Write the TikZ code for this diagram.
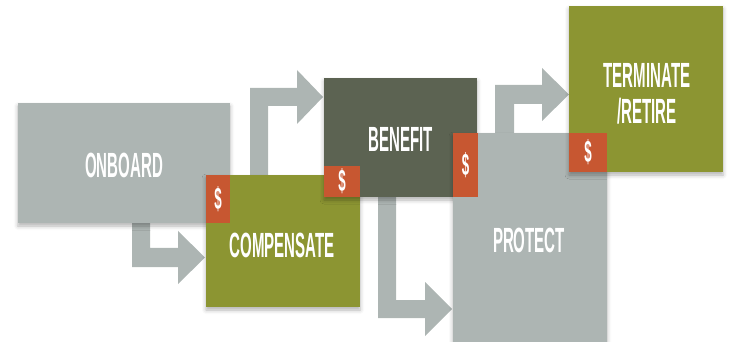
\documentclass[tikz,border=0pt]{standalone}
\usepackage{fontspec}
\newfontfamily\lbl[FakeStretch=0.43]{Liberation Sans}
\usetikzlibrary{shadows.blur}
\definecolor{cgray}{HTML}{ADB5B3}
\definecolor{colive}{HTML}{8C9532}
\definecolor{cdark}{HTML}{5C6352}
\definecolor{corange}{HTML}{C75731}
\tikzset{
  box/.style={fill=#1, draw=none, inner sep=0pt, outer sep=0pt,
    blur shadow={shadow xshift=0pt, shadow yshift=-3pt, shadow blur radius=4pt, shadow opacity=30}},
  tag/.style={fill=corange, draw=none, inner sep=0pt, outer sep=0pt, text=white,
    font=\lbl\bfseries\fontsize{31}{31}\selectfont},
  lab/.style={text=white, align=center, inner sep=0pt, text height=25pt, text depth=0pt,
    font=\lbl\bfseries\fontsize{35}{35}\selectfont},
  blockarrow/.style={fill=cgray, draw=none}
}
\begin{document}
\begin{tikzpicture}[x=1pt,y=-1pt]
\useasboundingbox (0,0) rectangle (729,342);
\begin{scope}
\clip (0,0) rectangle (729,342);
% block arrows (behind boxes)
\fill[blockarrow] (132,223) -- (150,223) -- (150,248) -- (178,248) -- (178,231) -- (205,257.5) -- (178,284) -- (178,267) -- (132,267) -- cycle;
\fill[blockarrow] (250,175) -- (250,88) -- (297,88) -- (297,70) -- (323,97) -- (297,124) -- (297,106) -- (268,106) -- (268,175) -- cycle;
\fill[blockarrow] (378,197) -- (396,197) -- (396,300) -- (425,300) -- (425,282) -- (452,309) -- (425,336) -- (425,318) -- (378,318) -- cycle;
\fill[blockarrow] (495,133) -- (495,85) -- (542,85) -- (542,68) -- (569,94.5) -- (542,121) -- (542,104) -- (514,104) -- (514,133) -- cycle;
% boxes
\node[box=cgray, minimum width=212pt, minimum height=120pt] (onboard) at (124,163) {};
\node[box=colive, minimum width=154pt, minimum height=132pt] (compensate) at (283,241) {};
\node[box=cdark, minimum width=153pt, minimum height=119pt] (benefit) at (400.5,137.5) {};
\node[box=cgray, minimum width=154pt, minimum height=230pt] (protect) at (530,248) {};
\node[box=colive, minimum width=154pt, minimum height=166pt] (terminate) at (646,89) {};
% dollar tags
\node[tag, minimum width=24pt, minimum height=48pt] (t1) at (218,199) {\$};
\node[tag, minimum width=36pt, minimum height=31pt] (t2) at (342,181.5) {\$};
\node[tag, minimum width=25pt, minimum height=64pt] (t3) at (465.5,165) {\$};
\node[tag, minimum width=38pt, minimum height=39pt] (t4) at (588,152.5) {\$};
% labels
\node[lab] (l1) at (124,165) {ONBOARD};
\node[lab] (l2) at (282,245) {COMPENSATE};
\node[lab] (l3) at (400.5,139) {BENEFIT};
\node[lab] (l4) at (529,240) {PROTECT};
\node[lab] (l5) at (647,75.5) {TERMINATE};
\node[lab] (l6) at (647,111) {/RETIRE};
\end{scope}
\end{tikzpicture}
\end{document}
